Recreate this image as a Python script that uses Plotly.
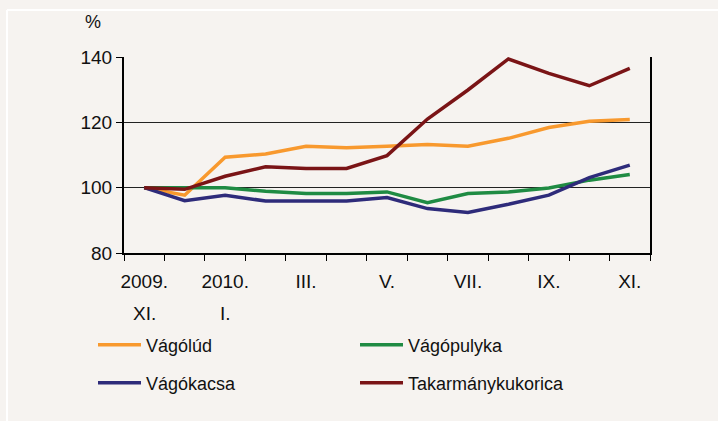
import plotly.graph_objects as go

# ---- data ----
x_idx = list(range(13))
tick_pos = [0, 2, 4, 6, 8, 10, 12]
tick_row1 = ["2009.", "2010.", "III.", "V.", "VII.", "IX.", "XI."]
tick_row2 = ["XI.", "I.", "", "", "", "", ""]

vagolud = [100, 97.7, 109.3, 110.3, 112.7, 112.2, 112.7, 113.2, 112.7, 115.1, 118.4, 120.3, 120.9]
vagopulyka = [100, 100.0, 100.0, 98.9, 98.2, 98.2, 98.7, 95.4, 98.2, 98.7, 99.9, 102.3, 104.0]
vagokacsa = [100, 96.0, 97.7, 95.9, 95.9, 95.9, 97.0, 93.6, 92.4, 94.9, 97.7, 103.1, 106.9]
kukorica = [100, 99.5, 103.5, 106.4, 105.9, 105.9, 109.8, 121.0, 129.9, 139.4, 135.0, 131.2, 136.5]

names = ["Vágólúd", "Vágópulyka", "Vágókacsa", "Takarmánykukorica"]
colors = ["#F8992E", "#1F8B43", "#2E2B7A", "#7A1416"]
series = [vagolud, vagopulyka, vagokacsa, kukorica]
legends = ["legend", "legend", "legend2", "legend2"]

FONT = "Liberation Sans, Arial, sans-serif"
BG = "#F6F3F0"

# plot area in pixels
W, H = 718, 421
L, R, T, B = 124, 650, 57, 253
pw, ph = R - L, B - T
def px(x):
    return (x - L) / pw
def py(y):
    return (B - y) / ph

fig = go.Figure()
for name, col, vals, lg in zip(names, colors, series, legends):
    fig.add_trace(go.Scatter(x=x_idx, y=vals, mode="lines", name=name,
                             line=dict(color=col, width=3.5), legend=lg))

leg_common = dict(orientation="h", x=px(93), xanchor="left", yanchor="middle",
                  bgcolor="rgba(0,0,0,0)", font=dict(size=18, family=FONT, color="#111111"),
                  entrywidth=204, entrywidthmode="pixels", itemwidth=43)

fig.update_layout(
    width=W, height=H,
    margin=dict(l=L, r=W - R, t=T, b=H - B),
    paper_bgcolor=BG, plot_bgcolor=BG,
    font=dict(family=FONT, size=19, color="#111111"),
    showlegend=True,
    legend=dict(y=py(345), **leg_common),
    legend2=dict(y=py(383), **leg_common),
)

fig.update_xaxes(
    range=[-0.5, 12.5], tickmode="array", tickvals=tick_pos, ticktext=tick_row1,
    ticks="", showgrid=False, zeroline=False,
    showline=True, linecolor="#000000", linewidth=2,
    ticklabelstandoff=10,
    minor=dict(tickmode="array", tickvals=[i - 0.5 for i in range(14)],
               ticks="outside", ticklen=6, tickcolor="#000000", tickwidth=1, showgrid=False),
)
fig.update_yaxes(
    range=[80, 140], tickmode="array", tickvals=[80, 100, 120, 140],
    ticks="outside", ticklen=6, tickcolor="#000000", tickwidth=1,
    showgrid=True, gridcolor="#222222", gridwidth=1, zeroline=False,
    showline=True, linecolor="#000000", linewidth=2, mirror=True,
)

# second row of x labels
for xp, t in zip(tick_pos, tick_row2):
    if t:
        fig.add_annotation(x=xp, y=py(313), xref="x", yref="paper", text=t,
                           showarrow=False, xanchor="center", yanchor="middle",
                           font=dict(size=19, family=FONT, color="#111111"))

# unit label
fig.add_annotation(x=px(93), y=py(22), xref="paper", yref="paper", text="%",
                   showarrow=False, xanchor="center", yanchor="middle",
                   font=dict(size=18, family=FONT, color="#111111"))

# white frame lines
fig.add_shape(type="line", xref="paper", yref="paper", x0=px(7), x1=px(718), y0=py(10), y1=py(10),
              line=dict(color="#FFFFFF", width=2), layer="below")
fig.add_shape(type="line", xref="paper", yref="paper", x0=px(7), x1=px(7), y0=py(10), y1=py(421),
              line=dict(color="#FFFFFF", width=2), layer="below")

fig.write_html("out.html", config={"displayModeBar": False},
               post_script="document.body.style.margin='0';document.body.style.overflow='hidden';")
